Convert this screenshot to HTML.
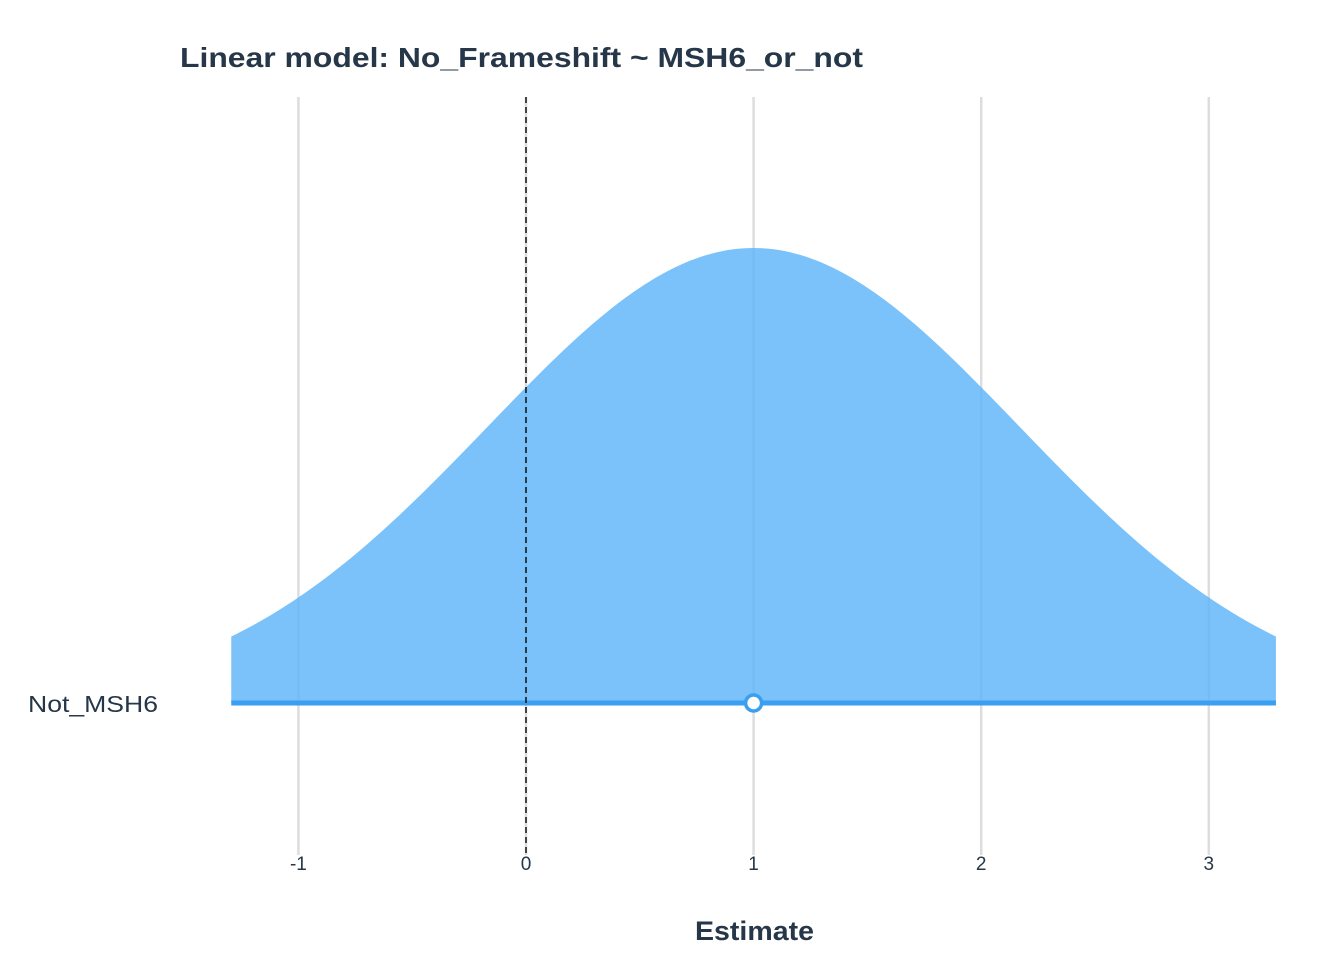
<!DOCTYPE html>
<html><head><meta charset="utf-8"><style>
html,body{margin:0;padding:0;background:#fff;}
svg{display:block;font-family:"Liberation Sans",Arial,sans-serif;}
</style></head><body>
<svg id="chart" width="1344" height="960" viewBox="0 0 1344 960">
<text x="180" y="67" font-size="28" font-weight="bold" fill="#253748" textLength="683" lengthAdjust="spacingAndGlyphs">Linear model: No_Frameshift ~ MSH6_or_not</text>
<g id="grid"></g>
<g id="marks"></g>
<text x="695" y="940" font-size="27" font-weight="bold" fill="#253748" textLength="119" lengthAdjust="spacingAndGlyphs">Estimate</text>
</svg>
<script>
const terms = ["Not_MSH6"];
const estimates = [1.0];
const stdErrors = [1.17];
const xTicks = [-1, 0, 1, 2, 3];
const xMin = -1.295, xMax = 3.295;

const svg = document.getElementById('chart');
const grid = document.getElementById('grid');
const marks = document.getElementById('marks');
const NS = 'http://www.w3.org/2000/svg';
function X(v){ return 526 + v * 227.6; }
const baseY = 703, peakH = 455;
function mk(tag, attrs, parent){ const e=document.createElementNS(NS,tag); for(const k in attrs) e.setAttribute(k,attrs[k]); parent.appendChild(e); return e; }

xTicks.forEach(t=>{
  const l = mk('line',{x1:X(t),x2:X(t),y1:97,y2:855,stroke:'#dddddd','stroke-width':2.5},grid);
  
  
  const tx = mk('text',{x:X(t),y:870,'font-size':19,fill:'#253748','text-anchor':'middle'},grid);
  tx.textContent = t;
  
  
});

terms.forEach((term,i)=>{
  const m = estimates[i], s = stdErrors[i];
  let d = 'M'+X(xMin)+','+baseY;
  for(let k=0;k<=200;k++){
    const v = xMin + (xMax-xMin)*k/200;
    const y = baseY - peakH*Math.exp(-((v-m)*(v-m))/(2*s*s));
    d += ' L'+X(v).toFixed(2)+','+y.toFixed(2);
  }
  d += ' L'+X(xMax)+','+baseY+' Z';
  const p = mk('path',{d:d,fill:'#5db4f8','fill-opacity':0.82},marks);
  
  
  const ln = mk('line',{x1:X(xMin),x2:X(xMax),y1:baseY,y2:baseY,stroke:'#3a9ff0','stroke-width':5},marks);
  
  
  const lab = mk('text',{x:28,y:baseY+9,'font-size':23,fill:'#253748',textLength:130,lengthAdjust:'spacingAndGlyphs'},marks);
  lab.textContent = term;
  
  
  const c = mk('circle',{cx:X(m),cy:baseY,r:8,fill:'#fff',stroke:'#3a9ff0','stroke-width':3.5},marks);
  
  
});

const z = mk('line',{x1:X(0),x2:X(0),y1:97,y2:855,stroke:'#111','stroke-width':1.5,'stroke-dasharray':'6,4'},marks);


</script>
</body></html>
